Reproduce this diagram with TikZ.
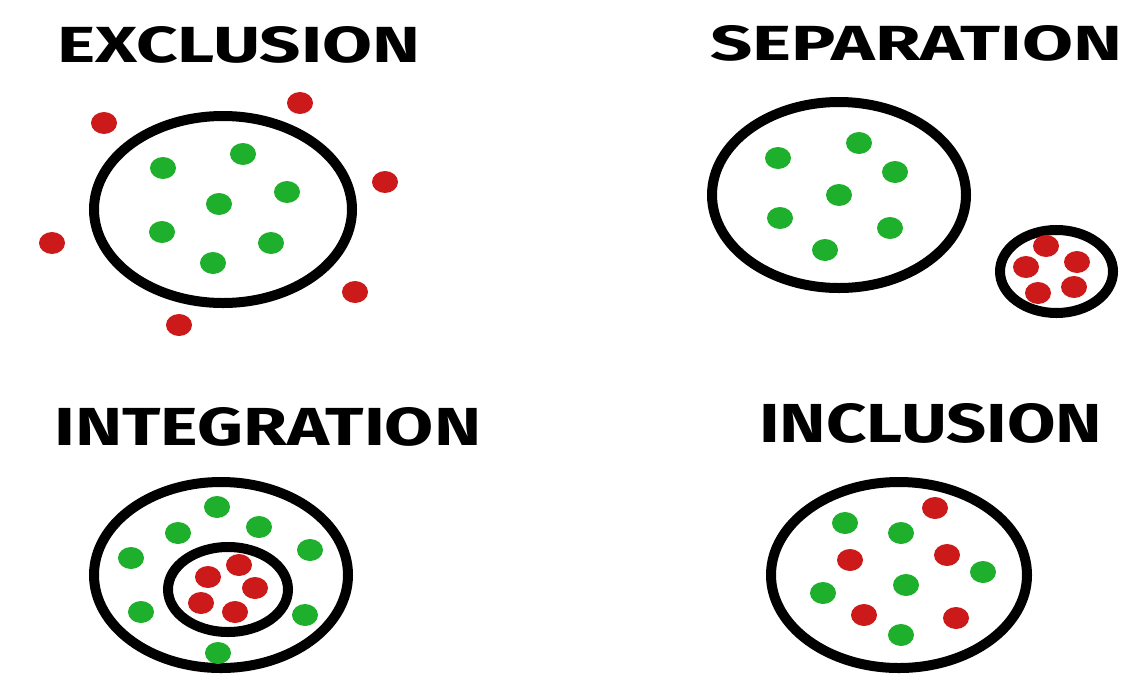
\documentclass[tikz,border=0pt]{standalone}
\usepackage{fontspec}
\setmainfont{Fira Sans}
\definecolor{dotgreen}{RGB}{30,176,44}
\definecolor{dotred}{RGB}{204,26,26}
\tikzset{
  ring/.style={draw=black, line width=10pt},
  gdot/.style={fill=dotgreen},
  rdot/.style={fill=dotred},
  title/.style={anchor=base west, inner sep=0pt, font=\bfseries},
}
\newcommand{\gd}[1]{\fill[gdot] (#1) ellipse [x radius=13pt, y radius=11pt];}
\newcommand{\rd}[1]{\fill[rdot] (#1) ellipse [x radius=13pt, y radius=11pt];}
\begin{document}
\begin{tikzpicture}[x=1pt,y=-1pt]
\useasboundingbox (0,0) rectangle (1126,675);
\clip (0,0) rectangle (1126,675);
\fill[white] (0,0) rectangle (1126,675);

% titles
\node[title] (texcl) at (57,62) {\resizebox{363pt}{36pt}{EXCLUSION}};
\node[title] (tsep) at (710,60) {\resizebox{412pt}{35pt}{SEPARATION}};
\node[title] (tint) at (54,445) {\resizebox{427pt}{38pt}{INTEGRATION}};
\node[title] (tincl) at (759,442) {\resizebox{343pt}{39pt}{INCLUSION}};

% EXCLUSION
\draw[ring] (223,209.5) ellipse [x radius=129pt, y radius=93.5pt];
\gd{163,168} \gd{243,154} \gd{287,192} \gd{219,204}
\gd{162,232} \gd{271,243} \gd{213,263}
\rd{104,123} \rd{300,103} \rd{385,182} \rd{52,243} \rd{355,292} \rd{179,325}

% SEPARATION
\draw[ring] (839,195) ellipse [x radius=127pt, y radius=93pt];
\gd{778,158} \gd{859,143} \gd{895,172} \gd{839,195}
\gd{780,218} \gd{890,228} \gd{825,250}
\draw[ring] (1056.5,271.5) ellipse [x radius=56.5pt, y radius=41.5pt];
\rd{1046,246} \rd{1077,262} \rd{1026,267} \rd{1074,287} \rd{1038,293}

% INTEGRATION
\draw[ring] (221,575) ellipse [x radius=127pt, y radius=93pt];
\draw[ring] (228,589.5) ellipse [x radius=60pt, y radius=42.5pt];
\gd{217,507} \gd{178,533} \gd{259,527} \gd{131,558}
\gd{310,550} \gd{141,612} \gd{305,615} \gd{218,653}
\rd{208,577} \rd{239,565} \rd{255,588} \rd{201,603} \rd{235,612}

% INCLUSION
\draw[ring] (899,575) ellipse [x radius=128pt, y radius=93pt];
\gd{845,523} \gd{901,533} \gd{983,572} \gd{906,585} \gd{823,593} \gd{901,635}
\rd{935,508} \rd{850,560} \rd{947,555} \rd{864,615} \rd{956,618}
\end{tikzpicture}
\end{document}
